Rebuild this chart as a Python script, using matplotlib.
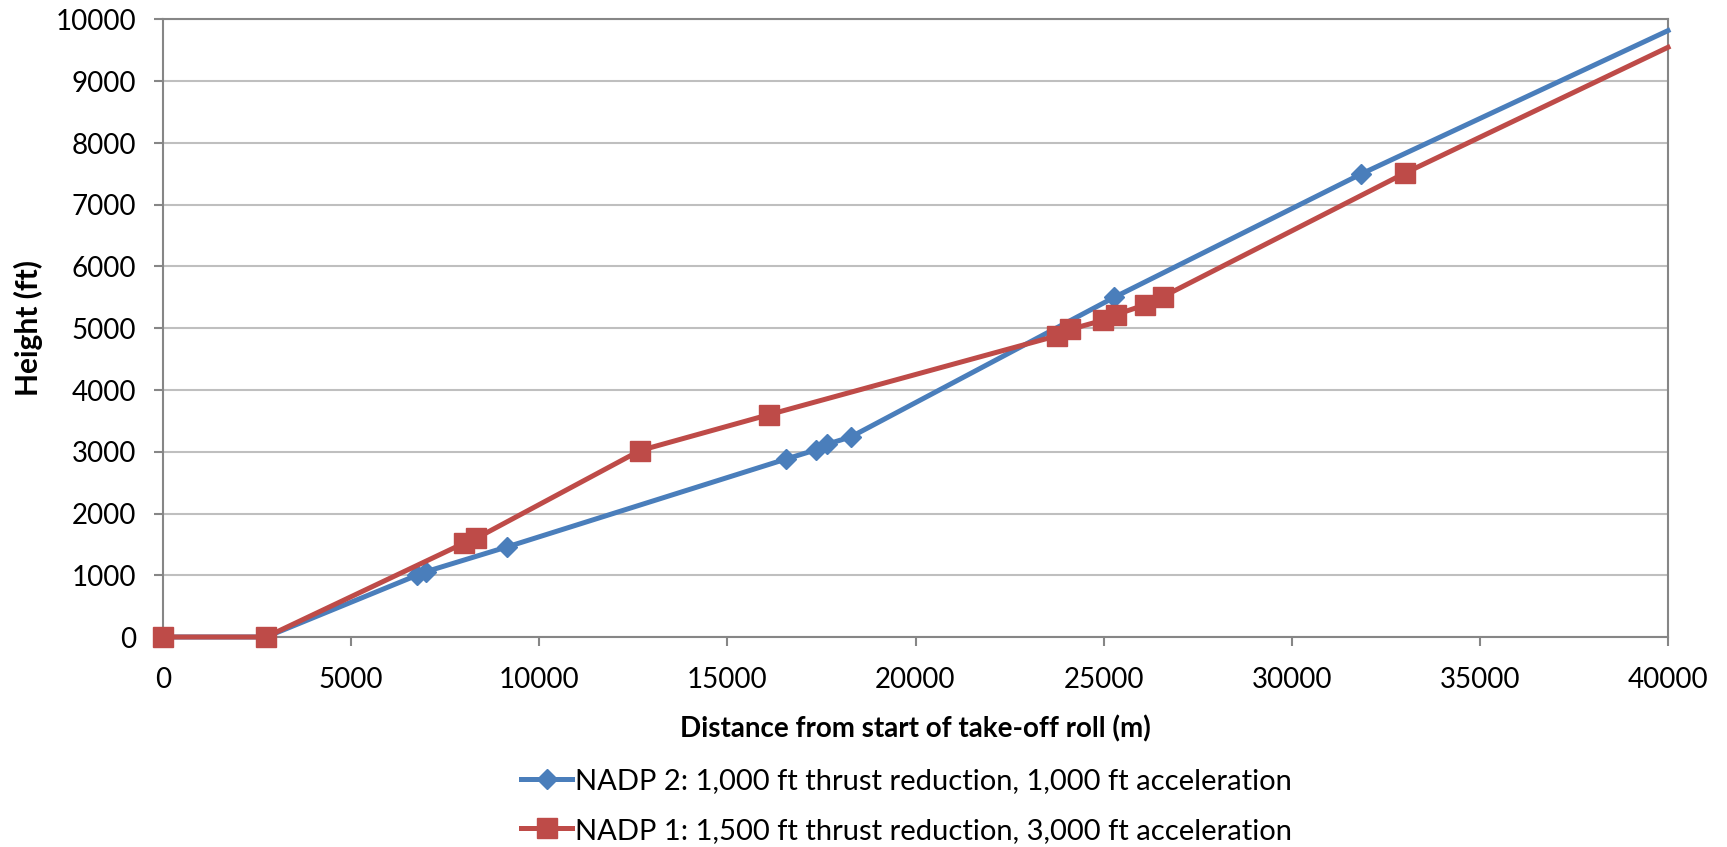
import matplotlib
matplotlib.use("Agg")
import matplotlib.pyplot as plt

nadp2_x = [0, 2740, 6750, 7000, 9150, 16550, 17350, 17640, 18280, 25280, 31850, 40000]
nadp2_y = [0, 0, 1000, 1060, 1460, 2880, 3030, 3120, 3240, 5500, 7500, 9820]
nadp1_x = [0, 2740, 8000, 8330, 12680, 16100, 23770, 24100, 24990, 25320, 26110, 26570, 33000, 40000]
nadp1_y = [0, 0, 1520, 1600, 3020, 3600, 4880, 4980, 5130, 5220, 5380, 5510, 7510, 9550]
label2 = "NADP 2: 1,000 ft thrust reduction, 1,000 ft acceleration"
label1 = "NADP 1: 1,500 ft thrust reduction, 3,000 ft acceleration"
x_ticks = [0, 5000, 10000, 15000, 20000, 25000, 30000, 35000, 40000]
y_ticks = [0, 1000, 2000, 3000, 4000, 5000, 6000, 7000, 8000, 9000, 10000]

plt.rcParams['font.family'] = ['Lato', 'DejaVu Sans']
fig = plt.figure(figsize=(17.27, 8.47), dpi=100)
ax = fig.add_axes([163/1727, 1-637/847, (1668-163)/1727, (637-19.5)/847])

blue = '#4A7EBB'
red = '#BE4B48'
l2, = ax.plot(nadp2_x, nadp2_y, color=blue, lw=3.6, marker='D', ms=10, mec=blue, mfc=blue,
              markevery=list(range(len(nadp2_x) - 1)), label=label2, zorder=3, clip_on=False)
l1, = ax.plot(nadp1_x, nadp1_y, color=red, lw=3.6, marker='s', ms=14, mec=red, mfc=red,
              markevery=list(range(len(nadp1_x) - 1)), label=label1, zorder=4, clip_on=False)

ax.set_xlim(0, 40000)
ax.set_ylim(0, 10000)
ax.set_xticks(x_ticks)
ax.set_yticks(y_ticks)
ax.grid(axis='y', color='#BFBFBF', lw=1.5)
ax.set_axisbelow(True)
for s in ax.spines.values():
    s.set_color('#868686')
    s.set_linewidth(1.5)
ax.tick_params(axis='both', direction='out', length=6.5, width=1.5, color='#868686',
               labelsize=20)
ax.tick_params(axis='y', pad=13)
ax.tick_params(axis='x', pad=15)
ax.set_xlabel('Distance from start of take-off roll (m)', fontsize=20, fontweight='bold', labelpad=16)
ax.set_ylabel('Height (ft)', fontsize=21.5, fontweight='bold', labelpad=9)

leg = fig.legend(handles=[l2, l1], loc='upper center', bbox_to_anchor=(0.525, 1-742/847),
                 frameon=False, fontsize=21, handlelength=1.75, handletextpad=0.1,
                 labelspacing=0.8, markerscale=1.0)

fig.savefig('out.png', dpi=100)
